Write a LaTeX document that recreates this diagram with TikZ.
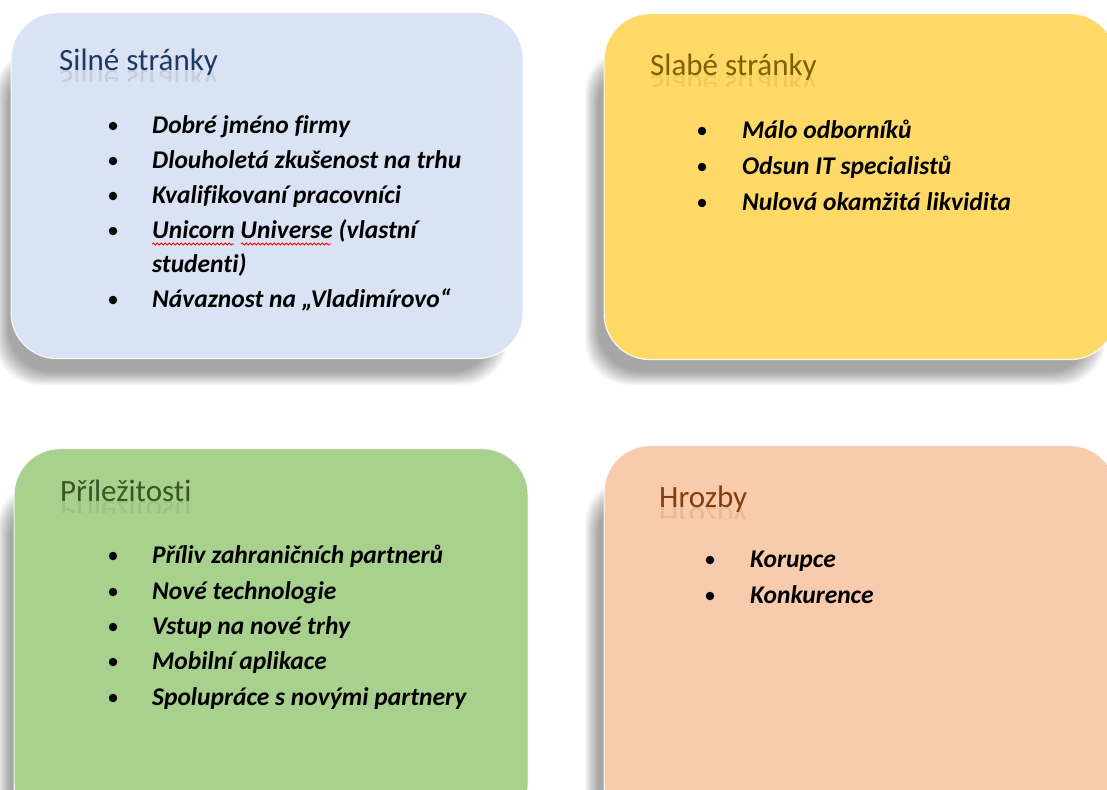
\documentclass[tikz,border=0pt]{standalone}
\usepackage{fontspec}
\setmainfont{Carlito}[Ligatures=NoCommon]
\usetikzlibrary{decorations.pathmorphing}

\definecolor{fillS}{HTML}{DAE3F3}
\definecolor{fillW}{HTML}{FFD966}
\definecolor{fillO}{HTML}{A9D18E}
\definecolor{fillT}{HTML}{F8CBAD}
\definecolor{headS}{HTML}{203864}
\definecolor{headW}{HTML}{7F6000}
\definecolor{headO}{HTML}{385723}
\definecolor{headT}{HTML}{843C0C}

% soft drop shadow: a stack of faint rounded rectangles
\newcommand\softshadow[4]{%
  \foreach \k in {0,...,13}{%
    \fill[black, fill opacity=0.027, rounded corners=44bp]
      (#1-\k,#2-\k) rectangle (#3+\k,#4+\k);
  }%
}

\tikzset{
  swotbox/.style={rounded corners=46bp, draw=white, draw opacity=0.85,
    line width=1.2bp, anchor=north west, inner sep=0pt},
  boxhead/.style={anchor=base west, inner sep=0pt,
    font=\fontsize{31bp}{36bp}\selectfont},
  headmirror/.style={anchor=base west, inner sep=0pt, transform shape,
    yscale=-1, opacity=0.12, font=\fontsize{31bp}{36bp}\selectfont},
  itemtext/.style={anchor=base west, inner sep=0pt,
    font=\fontsize{25.5bp}{30bp}\selectfont\bfseries\itshape},
  itemdot/.style={circle, fill=black, inner sep=0pt, minimum size=8.5bp},
  spellmark/.style={draw=red, line width=0.8bp,
    decorate, decoration={snake, segment length=4bp, amplitude=1.1bp}}
}

\begin{document}
\begin{tikzpicture}[x=1bp, y=-1bp]
\useasboundingbox (0,0) rectangle (1107,790);
\fill[white] (0,0) rectangle (1107,790);
\clip (0,0) rectangle (1107,790);

% shadows under the quadrants
\softshadow{8}{62}{494}{372}
\softshadow{598}{62}{1092}{372}
\softshadow{10}{496}{512}{840}
\softshadow{598}{492}{1092}{840}

% the four quadrants
\node[swotbox, fill=fillS, minimum width=512bp, minimum height=346bp] (S) at (10.5,12) {};
\node[swotbox, fill=fillW, minimum width=512bp, minimum height=346bp] (W) at (603.5,13) {};
\node[swotbox, fill=fillO, minimum width=514bp, minimum height=382bp] (O) at (13.5,448) {};
\node[swotbox, fill=fillT, minimum width=512bp, minimum height=385bp] (T) at (603.5,445) {};

% headings with their faint mirror image
\node[boxhead, text=headS] (hS) at (59,71) {Silné stránky};
\node[boxhead, text=headW] (hW) at (650,76) {Slabé stránky};
\node[boxhead, text=headO] (hO) at (60,501) {Příležitosti};
\node[boxhead, text=headT] (hT) at (659,507) {Hrozby};

\foreach \x/\y/\t/\c in {59/71/Silné stránky/headS, 650/76/Slabé stránky/headW,
                         60/501/Příležitosti/headO, 659/507/Hrozby/headT}{
  \begin{scope}
    \clip (\x-2,\y) rectangle (\x+220,\y+11);
    \begin{scope}[shift={(\x,\y)}]
      \node[headmirror, text=\c] at (0,0) {\t};
    \end{scope}
  \end{scope}
}

% strengths
\foreach \y/\t [count=\i] in {133/Dobré jméno firmy, 168/Dlouholetá zkušenost na trhu,
    203/Kvalifikovaní pracovníci, 238/Unicorn Universe (vlastní, 307/Návaznost na „Vladimírovo“}{
  \node[itemdot] (sd\i) at (113,\y-7) {};
  \node[itemtext] (s\i) at (152,\y) {\t};
}
\node[itemtext] (s4b) at (152,272) {studenti)};
\draw[spellmark] (152,244) -- (234,244);
\draw[spellmark] (241,244) -- (331,244);

% weaknesses
\foreach \y/\t [count=\i] in {138/Málo odborníků, 174/Odsun IT specialistů,
    210/Nulová okamžitá likvidita}{
  \node[itemdot] (wd\i) at (702,\y-7) {};
  \node[itemtext] (w\i) at (742,\y) {\t};
}

% opportunities
\foreach \y/\t [count=\i] in {563/Příliv zahraničních partnerů, 599/Nové technologie,
    634/Vstup na nové trhy, 669/Mobilní aplikace, 705/Spolupráce s novými partnery}{
  \node[itemdot] (od\i) at (113,\y-7) {};
  \node[itemtext] (o\i) at (152,\y) {\t};
}

% threats
\foreach \y/\t [count=\i] in {567/Korupce, 603/Konkurence}{
  \node[itemdot] (td\i) at (710,\y-7) {};
  \node[itemtext] (t\i) at (750,\y) {\t};
}
\end{tikzpicture}
\end{document}
